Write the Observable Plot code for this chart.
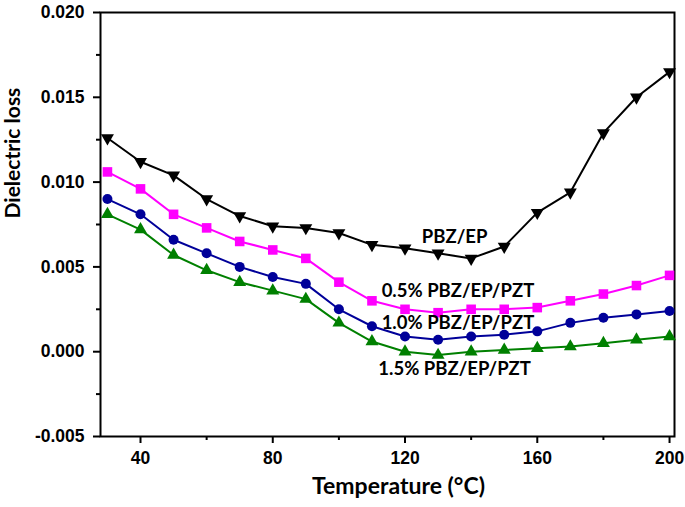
<!DOCTYPE html>
<html>
<head>
<meta charset="utf-8">
<script src="https://cdn.jsdelivr.net/npm/d3@7"></script>
<script src="https://cdn.jsdelivr.net/npm/@observablehq/plot@0.6"></script>
<style>
  html, body { margin: 0; padding: 0; background: #fff; }
  #chart svg text { font-weight: 700 !important; }
  #chart svg g[aria-label="y-axis tick label"],
  #chart svg g[aria-label="x-axis tick label"] {
    font-size: 17.5px !important;
    font-family: 'Liberation Sans', Arial, sans-serif !important;
    font-weight: 700 !important;
  }
</style>
</head>
<body>
<div id="chart"></div>
<script>
// ---- data ----
const temps = [30, 40, 50, 60, 70, 80, 90, 100, 110, 120, 130, 140, 150, 160, 170, 180, 190, 200];
const pbzEp   = [0.0126, 0.0112, 0.0104, 0.0090, 0.0080, 0.0074, 0.0073, 0.0070, 0.0063, 0.0061, 0.0058, 0.0055, 0.0062, 0.0082, 0.0094, 0.0129, 0.0150, 0.0165];
const pzt05   = [0.0106, 0.0096, 0.0081, 0.0073, 0.0065, 0.0060, 0.0055, 0.0041, 0.0030, 0.0025, 0.0023, 0.0025, 0.0025, 0.0026, 0.0030, 0.0034, 0.0039, 0.0045];
const pzt10   = [0.0090, 0.0081, 0.0066, 0.0058, 0.0050, 0.0044, 0.0040, 0.0025, 0.0015, 0.0009, 0.0007, 0.0009, 0.0010, 0.0012, 0.0017, 0.0020, 0.0022, 0.0024];
const pzt15   = [0.0081, 0.0072, 0.0057, 0.0048, 0.0041, 0.0036, 0.0031, 0.0017, 0.0006, 0.0000, -0.0002, 0.0000, 0.0001, 0.0002, 0.0003, 0.0005, 0.0007, 0.0009];
const seriesNames = ["PBZ/EP", "0.5% PBZ/EP/PZT", "1.0% PBZ/EP/PZT", "1.5% PBZ/EP/PZT"];
const yTicks = [-0.005, 0.000, 0.005, 0.010, 0.015, 0.020];
const xTicks = [40, 80, 120, 160, 200];
const xMinorTicks = [60, 100, 140, 180];
const yMinorTicks = [-0.0025, 0.0025, 0.0075, 0.0125, 0.0175];
// annotation anchor positions (data units)
const labelX = [135, 136, 136, 135];
const labelY = [0.00674, 0.0036, 0.00167, -0.0010];

// ---- symbols ----
const downTriangle = {
  draw(ctx, size) {
    const y = Math.sqrt(size / (Math.sqrt(3) * 3));
    ctx.moveTo(0, 2 * y);
    ctx.lineTo(-Math.sqrt(3) * y, -y);
    ctx.lineTo(Math.sqrt(3) * y, -y);
    ctx.closePath();
  }
};
const upTriangle = {
  draw(ctx, size) {
    const y = Math.sqrt(size / (Math.sqrt(3) * 3));
    ctx.moveTo(0, -2 * y);
    ctx.lineTo(-Math.sqrt(3) * y, y);
    ctx.lineTo(Math.sqrt(3) * y, y);
    ctx.closePath();
  }
};

const styles = [
  {values: pbzEp, color: "#000000", symbol: downTriangle, r: 4.8},
  {values: pzt05, color: "#ff00ff", symbol: "square", r: 5.4},
  {values: pzt10, color: "#000099", symbol: "circle", r: 5},
  {values: pzt15, color: "#008000", symbol: upTriangle, r: 4.8}
];

const marks = [];
styles.forEach((s, i) => {
  const rows = temps.map((t, j) => ({t, v: s.values[j], name: seriesNames[i]}));
  marks.push(Plot.line(rows, {x: "t", y: "v", stroke: s.color, strokeWidth: 2}));
  marks.push(Plot.dot(rows, {x: "t", y: "v", fill: s.color, stroke: "none", symbol: s.symbol, r: s.r}));
});

const labels = seriesNames.map((n, i) => ({n, x: labelX[i], y: labelY[i]}));
const yFmt = d => d3.format(".3f")(d).replace("\u2212", "-");

const chart = Plot.plot({
  width: 685,
  height: 507,
  marginLeft: 100,
  marginRight: 11,
  marginTop: 12,
  marginBottom: 71,
  style: {fontFamily: "'Liberation Sans', Arial, sans-serif", fontSize: "17px", fontWeight: "bold", color: "#000", background: "#fff"},
  x: {domain: [27.9, 201.5]},
  y: {domain: [-0.005, 0.020]},
  marks: [
    Plot.axisY({ticks: yTicks, tickFormat: yFmt, tickSize: 7, tickPadding: 9, strokeWidth: 2, label: null, fontSize: 17.5, fontWeight: "bold", fontVariant: "normal"}),
    Plot.axisY({ticks: yMinorTicks, tickFormat: () => "", tickSize: 4, strokeWidth: 2, label: null}),
    Plot.axisX({ticks: xTicks, tickFormat: d3.format("d"), tickSize: 7, tickPadding: 8, strokeWidth: 2, label: null, fontSize: 17.5, fontWeight: "bold", fontVariant: "normal"}),
    Plot.axisX({ticks: xMinorTicks, tickFormat: () => "", tickSize: 4, strokeWidth: 2, label: null}),
    Plot.frame({stroke: "#000", strokeWidth: 2}),
    ...marks,
    Plot.text(labels, {x: "x", y: "y", text: "n", fontFamily: "Lato, 'Open Sans', sans-serif", fontWeight: "bold", fontSize: 18.5, fill: "#000"}),
    Plot.text(["Temperature (°C)"], {frameAnchor: "bottom", dx: 11, dy: 57, text: d => d, fontFamily: "Lato, 'Open Sans', sans-serif", fontWeight: "bold", fontSize: 23, fill: "#000"}),
    Plot.text(["Dielectric loss"], {frameAnchor: "left", dx: -87, dy: -6, rotate: -90, text: d => d, fontFamily: "Lato, 'Open Sans', sans-serif", fontWeight: "bold", fontSize: 21, fill: "#000"})
  ]
});
document.getElementById("chart").appendChild(chart);
</script>
</body>
</html>
